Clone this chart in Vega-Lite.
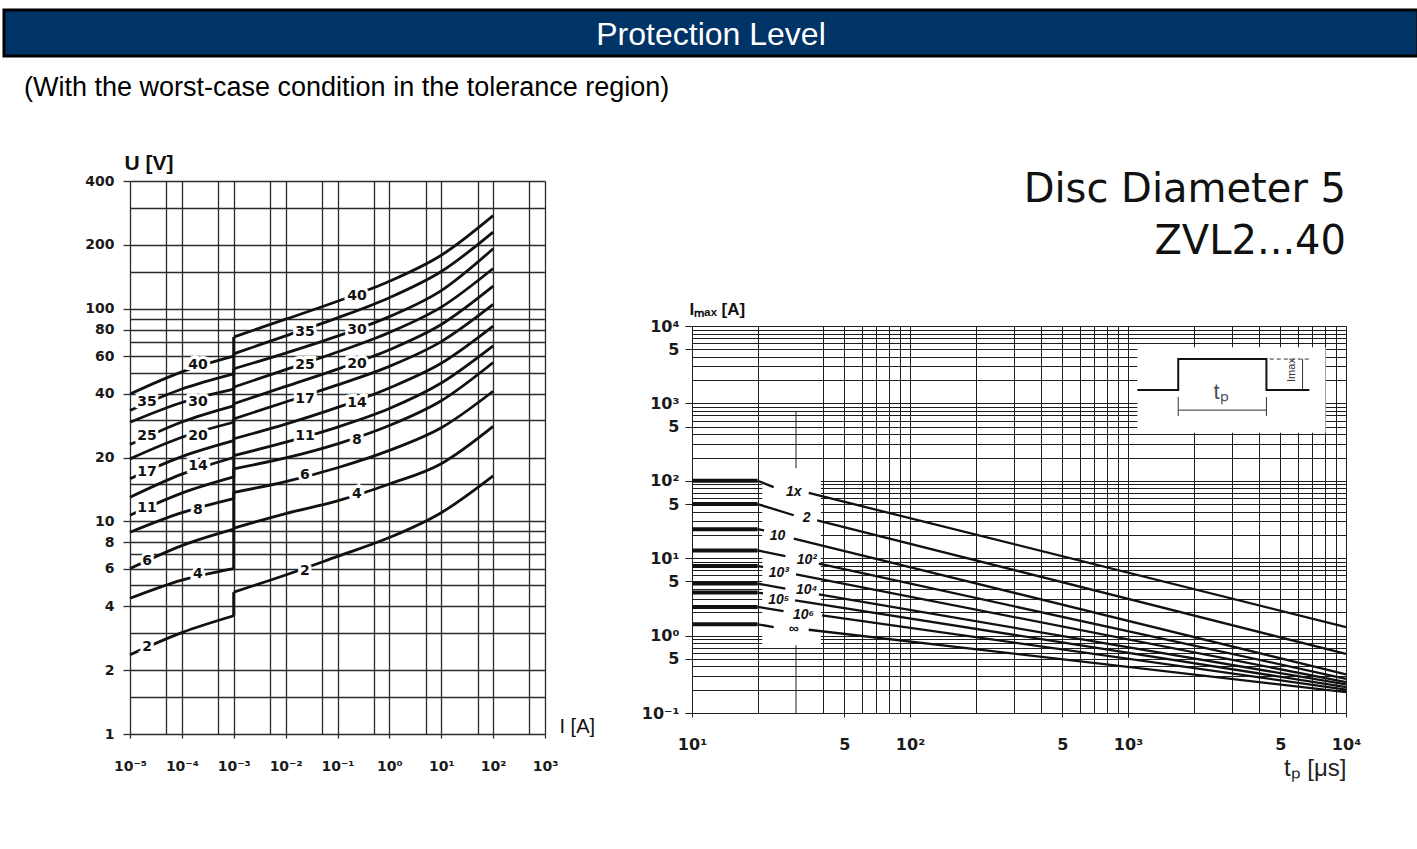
{
  "$schema": "https://vega.github.io/schema/vega-lite/v6.json",
  "background": "white",
  "padding": {"left": 2, "top": 8, "right": 1, "bottom": 4},
  "config": {"font": "Liberation Sans", "view": {"stroke": null}},
  "datasets": {
    "header": [{"label": "Protection Level"}],
    "disc": [{"line": "Disc Diameter 5"}, {"line": "ZVL2...40"}],
    "vi": [
      {"curve":"40","seg":"low","I":0.00001,"U":39.8},{"curve":"40","seg":"low","I":0.0001,"U":50.6},{"curve":"40","seg":"low","I":0.001,"U":60},
      {"curve":"40","seg":"high","I":0.001,"U":73.8},{"curve":"40","seg":"high","I":0.01,"U":89.5},{"curve":"40","seg":"high","I":0.1,"U":108.7},{"curve":"40","seg":"high","I":1,"U":135},{"curve":"40","seg":"high","I":10,"U":179},{"curve":"40","seg":"high","I":100,"U":275},
      {"curve":"35","seg":"low","I":0.00001,"U":33.3},{"curve":"35","seg":"low","I":0.0001,"U":42.0},{"curve":"35","seg":"low","I":0.001,"U":49.5},
      {"curve":"35","seg":"high","I":0.001,"U":61.5},{"curve":"35","seg":"high","I":0.01,"U":74.7},{"curve":"35","seg":"high","I":0.1,"U":90.8},{"curve":"35","seg":"high","I":1,"U":113},{"curve":"35","seg":"high","I":10,"U":150},{"curve":"35","seg":"high","I":100,"U":230},
      {"curve":"30","seg":"low","I":0.00001,"U":29.3},{"curve":"30","seg":"low","I":0.0001,"U":36.3},{"curve":"30","seg":"low","I":0.001,"U":42},
      {"curve":"30","seg":"high","I":0.001,"U":52.3},{"curve":"30","seg":"high","I":0.01,"U":62},{"curve":"30","seg":"high","I":0.1,"U":74.5},{"curve":"30","seg":"high","I":1,"U":92},{"curve":"30","seg":"high","I":10,"U":122},{"curve":"30","seg":"high","I":100,"U":192},
      {"curve":"25","seg":"low","I":0.00001,"U":23},{"curve":"25","seg":"low","I":0.0001,"U":29.4},{"curve":"25","seg":"low","I":0.001,"U":35},
      {"curve":"25","seg":"high","I":0.001,"U":42.9},{"curve":"25","seg":"high","I":0.01,"U":51.8},{"curve":"25","seg":"high","I":0.1,"U":62.7},{"curve":"25","seg":"high","I":1,"U":77.5},{"curve":"25","seg":"high","I":10,"U":102},{"curve":"25","seg":"high","I":100,"U":155},
      {"curve":"20","seg":"low","I":0.00001,"U":19.7},{"curve":"20","seg":"low","I":0.0001,"U":24.9},{"curve":"20","seg":"low","I":0.001,"U":29.3},
      {"curve":"20","seg":"high","I":0.001,"U":35.8},{"curve":"20","seg":"high","I":0.01,"U":43.2},{"curve":"20","seg":"high","I":0.1,"U":52.1},{"curve":"20","seg":"high","I":1,"U":64.3},{"curve":"20","seg":"high","I":10,"U":84.5},{"curve":"20","seg":"high","I":100,"U":128},
      {"curve":"17","seg":"low","I":0.00001,"U":15.9},{"curve":"17","seg":"low","I":0.0001,"U":20.2},{"curve":"17","seg":"low","I":0.001,"U":24},
      {"curve":"17","seg":"high","I":0.001,"U":30.4},{"curve":"17","seg":"high","I":0.01,"U":36.5},{"curve":"17","seg":"high","I":0.1,"U":43.9},{"curve":"17","seg":"high","I":1,"U":53.7},{"curve":"17","seg":"high","I":10,"U":70.2},{"curve":"17","seg":"high","I":100,"U":105},
      {"curve":"14","seg":"low","I":0.00001,"U":13},{"curve":"14","seg":"low","I":0.0001,"U":16.7},{"curve":"14","seg":"low","I":0.001,"U":20},
      {"curve":"14","seg":"high","I":0.001,"U":24.5},{"curve":"14","seg":"high","I":0.01,"U":28.7},{"curve":"14","seg":"high","I":0.1,"U":34.4},{"curve":"14","seg":"high","I":1,"U":42.5},{"curve":"14","seg":"high","I":10,"U":55.5},{"curve":"14","seg":"high","I":100,"U":83},
      {"curve":"11","seg":"low","I":0.00001,"U":10.7},{"curve":"11","seg":"low","I":0.0001,"U":13.6},{"curve":"11","seg":"low","I":0.001,"U":16.2},
      {"curve":"11","seg":"high","I":0.001,"U":20.4},{"curve":"11","seg":"high","I":0.01,"U":23.6},{"curve":"11","seg":"high","I":0.1,"U":27.8},{"curve":"11","seg":"high","I":1,"U":34},{"curve":"11","seg":"high","I":10,"U":44.8},{"curve":"11","seg":"high","I":100,"U":67},
      {"curve":"8","seg":"low","I":0.00001,"U":8.9},{"curve":"8","seg":"low","I":0.0001,"U":11.0},{"curve":"8","seg":"low","I":0.001,"U":12.8},
      {"curve":"8","seg":"high","I":0.001,"U":17.7},{"curve":"8","seg":"high","I":0.01,"U":19.9},{"curve":"8","seg":"high","I":0.1,"U":23.2},{"curve":"8","seg":"high","I":1,"U":28.3},{"curve":"8","seg":"high","I":10,"U":37},{"curve":"8","seg":"high","I":100,"U":56},
      {"curve":"6","seg":"low","I":0.00001,"U":6.0},{"curve":"6","seg":"low","I":0.0001,"U":7.7},{"curve":"6","seg":"low","I":0.001,"U":9.2},
      {"curve":"6","seg":"high","I":0.001,"U":13.7},{"curve":"6","seg":"high","I":0.01,"U":15.4},{"curve":"6","seg":"high","I":0.1,"U":17.9},{"curve":"6","seg":"high","I":1,"U":21.6},{"curve":"6","seg":"high","I":10,"U":27.6},{"curve":"6","seg":"high","I":100,"U":41},
      {"curve":"4","seg":"low","I":0.00001,"U":4.35},{"curve":"4","seg":"low","I":0.0001,"U":5.3},{"curve":"4","seg":"low","I":0.001,"U":6.0},
      {"curve":"4","seg":"high","I":0.001,"U":9.3},{"curve":"4","seg":"high","I":0.01,"U":10.9},{"curve":"4","seg":"high","I":0.1,"U":12.5},{"curve":"4","seg":"high","I":1,"U":15.0},{"curve":"4","seg":"high","I":10,"U":18.7},{"curve":"4","seg":"high","I":100,"U":28},
      {"curve":"2","seg":"low","I":0.00001,"U":2.36},{"curve":"2","seg":"low","I":0.0001,"U":3.0},{"curve":"2","seg":"low","I":0.001,"U":3.6},
      {"curve":"2","seg":"high","I":0.001,"U":4.65},{"curve":"2","seg":"high","I":0.01,"U":5.6},{"curve":"2","seg":"high","I":0.1,"U":6.85},{"curve":"2","seg":"high","I":1,"U":8.4},{"curve":"2","seg":"high","I":10,"U":11},{"curve":"2","seg":"high","I":100,"U":16.4}
    ],
    "jumps": [
      {"curve":"40","I":0.001,"Ulo":60,"Uhi":73.8},{"curve":"35","I":0.001,"Ulo":49.5,"Uhi":61.5},{"curve":"30","I":0.001,"Ulo":42,"Uhi":52.3},
      {"curve":"25","I":0.001,"Ulo":35,"Uhi":42.9},{"curve":"20","I":0.001,"Ulo":29.3,"Uhi":35.8},{"curve":"17","I":0.001,"Ulo":24,"Uhi":30.4},
      {"curve":"14","I":0.001,"Ulo":20,"Uhi":24.5},{"curve":"11","I":0.001,"Ulo":16.2,"Uhi":20.4},{"curve":"8","I":0.001,"Ulo":12.8,"Uhi":17.7},
      {"curve":"6","I":0.001,"Ulo":9.2,"Uhi":13.7},{"curve":"4","I":0.001,"Ulo":6.0,"Uhi":9.3},{"curve":"2","I":0.001,"Ulo":3.6,"Uhi":4.65}
    ],
    "vilabels": [
      {"text":"35","I":0.0000213,"U":36.6},{"text":"25","I":0.0000213,"U":25.3},{"text":"17","I":0.0000213,"U":17.1},{"text":"11","I":0.0000213,"U":11.6},{"text":"6","I":0.0000213,"U":6.53},{"text":"2","I":0.0000213,"U":2.57},
      {"text":"40","I":0.000204,"U":54.6},{"text":"30","I":0.000204,"U":36.6},{"text":"20","I":0.000204,"U":25.3},{"text":"14","I":0.000204,"U":18.3},{"text":"8","I":0.000204,"U":11.3},{"text":"4","I":0.000204,"U":5.67},
      {"text":"35","I":0.0236,"U":78.1},{"text":"25","I":0.0236,"U":54.6},{"text":"17","I":0.0236,"U":37.8},{"text":"11","I":0.0236,"U":25.3},{"text":"6","I":0.0236,"U":16.6},{"text":"2","I":0.0236,"U":5.85},
      {"text":"40","I":0.237,"U":115.4},{"text":"30","I":0.237,"U":79.8},{"text":"20","I":0.237,"U":55.2},{"text":"14","I":0.237,"U":36.2},{"text":"8","I":0.237,"U":24.2},{"text":"4","I":0.237,"U":13.5}
    ],
    "boxes": [
      {"t1":21,"t2":39,"i1":0.75,"i2":145},
      {"t1":1104,"t2":8060,"i1":417,"i2":5300}
    ],
    "grid30": [
      {"t":30,"I":145,"I2":780},
      {"t":30,"I":0.1,"I2":0.75}
    ],
    "pulse": [
      {"curve":"1x","part":"flat","t":10,"I":100},{"curve":"1x","part":"flat","t":20,"I":100},{"curve":"1x","part":"stub","t":20,"I":100},{"curve":"1x","part":"stub","t":23.7,"I":83},{"curve":"1x","part":"main","t":34.3,"I":69.8},{"curve":"1x","part":"main","t":10000,"I":1.29},
      {"curve":"2","part":"flat","t":10,"I":50},{"curve":"2","part":"flat","t":20,"I":50},{"curve":"2","part":"stub","t":20,"I":50},{"curve":"2","part":"stub","t":29.3,"I":35.9},{"curve":"2","part":"main","t":37.5,"I":30.9},{"curve":"2","part":"main","t":10000,"I":0.58},
      {"curve":"10","part":"flat","t":10,"I":23.7},{"curve":"10","part":"flat","t":20,"I":23.7},{"curve":"10","part":"stub","t":20,"I":23.7},{"curve":"10","part":"stub","t":21.4,"I":22.9},{"curve":"10","part":"main","t":29.3,"I":17.9},{"curve":"10","part":"main","t":10000,"I":0.315},
      {"curve":"1e2","part":"flat","t":10,"I":12.6},{"curve":"1e2","part":"flat","t":20,"I":12.6},{"curve":"1e2","part":"stub","t":20,"I":12.6},{"curve":"1e2","part":"stub","t":26.8,"I":10.6},{"curve":"1e2","part":"main","t":38.2,"I":8.5},{"curve":"1e2","part":"main","t":10000,"I":0.277},
      {"curve":"1e3","part":"flat","t":10,"I":7.9},{"curve":"1e3","part":"flat","t":20,"I":7.9},{"curve":"1e3","part":"stub","t":20,"I":7.9},{"curve":"1e3","part":"stub","t":21.2,"I":7.7},{"curve":"1e3","part":"main","t":30,"I":6.2},{"curve":"1e3","part":"main","t":10000,"I":0.25},
      {"curve":"1e4","part":"flat","t":10,"I":4.7},{"curve":"1e4","part":"flat","t":20,"I":4.7},{"curve":"1e4","part":"stub","t":20,"I":4.7},{"curve":"1e4","part":"stub","t":26.8,"I":4.05},{"curve":"1e4","part":"main","t":38.2,"I":3.41},{"curve":"1e4","part":"main","t":10000,"I":0.234},
      {"curve":"1e5","part":"flat","t":10,"I":3.6},{"curve":"1e5","part":"flat","t":20,"I":3.6},{"curve":"1e5","part":"stub","t":20,"I":3.6},{"curve":"1e5","part":"stub","t":21.2,"I":3.5},{"curve":"1e5","part":"main","t":29.7,"I":2.85},{"curve":"1e5","part":"main","t":10000,"I":0.216},
      {"curve":"1e6","part":"flat","t":10,"I":2.35},{"curve":"1e6","part":"flat","t":20,"I":2.35},{"curve":"1e6","part":"stub","t":20,"I":2.35},{"curve":"1e6","part":"stub","t":26.3,"I":2.07},{"curve":"1e6","part":"main","t":39.5,"I":1.82},{"curve":"1e6","part":"main","t":10000,"I":0.201},
      {"curve":"inf","part":"flat","t":10,"I":1.4},{"curve":"inf","part":"flat","t":20,"I":1.4},{"curve":"inf","part":"stub","t":20,"I":1.4},{"curve":"inf","part":"stub","t":23.7,"I":1.29},{"curve":"inf","part":"main","t":34.3,"I":1.19},{"curve":"inf","part":"main","t":10000,"I":0.186}
    ],
    "plabels": [
      {"text":"1x","t":29.3,"I":71},{"text":"2","t":33.6,"I":32.8},{"text":"10","t":24.7,"I":19.2},
      {"text":"10²","t":33.6,"I":9.4},{"text":"10³","t":25,"I":6.4},{"text":"10⁴","t":33.6,"I":3.85},
      {"text":"10⁵","t":25,"I":2.85},{"text":"10⁶","t":32.5,"I":1.82},{"text":"∞","t":29.3,"I":1.2}
    ],
    "wave": [
      {"k":0,"t":1104,"I":1486},{"k":1,"t":1700,"I":1486},{"k":2,"t":1700,"I":3741},
      {"k":3,"t":4315,"I":3741},{"k":4,"t":4315,"I":1486},{"k":5,"t":6790,"I":1486}
    ],
    "dims": [
      {"t":1700,"t2":4315,"I":818,"I2":818},{"t":1700,"t2":1700,"I":685,"I2":1208},
      {"t":4315,"t2":4315,"I":685,"I2":1208},{"t":6320,"t2":6320,"I":1486,"I2":3741}
    ],
    "ext": [{"t":4470,"t2":6790,"I":3741,"I2":3741}],
    "insetText": [{"text":"tₚ","t":2670,"I":1413}],
    "insetRot": [{"text":"Imax","t":5660,"I":2700}]
  },
  "spacing": 16,
  "vconcat": [
    {
      "width": 1414, "height": 46,
      "view": {"fill": "#003366", "stroke": "#000000", "strokeWidth": 3},
      "data": {"name": "header"},
      "mark": {"type": "text", "fill": "#ffffff", "fontSize": 32, "font": "Liberation Sans", "baseline": "middle", "align": "center", "dy": 2},
      "encoding": {"text": {"field": "label", "type": "nominal"}}
    },
    {
      "title": {"text": "(With the worst-case condition in the tolerance region)", "anchor": "start", "dx": 20, "fontSize": 27, "fontWeight": "normal", "font": "Liberation Sans", "offset": 50, "color": "#000000"},
      "spacing": 46,
      "hconcat": [
        {"width": 34, "height": 1, "data": {"values": []}, "mark": "point"},
        {
          "width": 415, "height": 553,
          "layer": [
            {
              "data": {"name": "vi"},
              "mark": {"type": "line", "color": "#111111", "strokeWidth": 2.8, "interpolate": "monotone"},
              "encoding": {
                "x": {"field": "I", "type": "quantitative",
                  "scale": {"type": "log", "domain": [0.00001, 1000], "nice": false},
                  "axis": {
                    "values": [0.00001, 0.00005, 0.0001, 0.0005, 0.001, 0.005, 0.01, 0.05, 0.1, 0.5, 1, 5, 10, 50, 100, 500, 1000],
                    "labelExpr": "datum.value == 0.00001 ? '10⁻⁵' : datum.value == 0.0001 ? '10⁻⁴' : datum.value == 0.001 ? '10⁻³' : datum.value == 0.01 ? '10⁻²' : datum.value == 0.1 ? '10⁻¹' : datum.value == 1 ? '10⁰' : datum.value == 10 ? '10¹' : datum.value == 100 ? '10²' : datum.value == 1000 ? '10³' : ''",
                    "grid": true, "gridColor": "#2b2b2b", "gridWidth": 1.3, "gridOpacity": 1,
                    "domain": false,
                    "ticks": true, "tickSize": 4, "tickColor": "#2b2b2b", "tickWidth": 1.3,
                    "tickOpacity": {"condition": {"test": "indexof([0.00001,0.0001,0.001,0.01,0.1,1,10,100,1000], datum.value) >= 0", "value": 1}, "value": 0},
                    "labelFont": "DejaVu Sans", "labelFontWeight": "bold", "labelFontSize": 14, "labelColor": "#1a1a1a", "labelPadding": 21,
                    "labelOverlap": false, "labelFlush": false, "labelBound": false,
                    "title": "I [A]", "titleFont": "Liberation Sans", "titleFontSize": 20, "titleFontWeight": "normal", "titleColor": "#111111",
                    "titleAngle": 0, "titleAlign": "left", "titleBaseline": "bottom", "titleX": 429, "titleY": 2
                  }
                },
                "y": {"field": "U", "type": "quantitative",
                  "scale": {"type": "log", "domain": [1, 400], "nice": false},
                  "axis": {
                    "values": [1,1.5,2,3,4,5,6,7,8,9,10,15,20,30,40,50,60,70,80,90,100,150,200,300,400],
                    "labelExpr": "indexof([1,2,4,6,8,10,20,40,60,80,100,200,400], datum.value) >= 0 ? '' + datum.value : ''",
                    "grid": true, "gridColor": "#2b2b2b", "gridWidth": 1.3, "gridOpacity": 1,
                    "domain": false,
                    "ticks": true, "tickSize": 7, "tickColor": "#2b2b2b", "tickWidth": 1.3,
                    "tickOpacity": {"condition": {"test": "indexof([1,2,4,6,8,10,20,40,60,80,100,200,400], datum.value) >= 0", "value": 1}, "value": 0},
                    "labelFont": "DejaVu Sans", "labelFontWeight": "bold", "labelFontSize": 14, "labelColor": "#1a1a1a", "labelPadding": 9,
                    "labelOverlap": false, "labelFlush": false, "labelBound": false,
                    "title": "U [V]", "titleFont": "Liberation Sans", "titleFontSize": 21, "titleFontWeight": "bold", "titleColor": "#111111",
                    "titleAngle": 0, "titleAlign": "left", "titleBaseline": "alphabetic", "titleX": -6, "titleY": -12
                  }
                },
                "detail": [{"field": "curve", "type": "nominal"}, {"field": "seg", "type": "nominal"}]
              }
            },
            {
              "data": {"name": "jumps"},
              "mark": {"type": "rule", "color": "#111111", "strokeWidth": 3},
              "encoding": {
                "x": {"field": "I", "type": "quantitative"},
                "y": {"field": "Ulo", "type": "quantitative"},
                "y2": {"field": "Uhi"}
              }
            },
            {
              "data": {"name": "vilabels"},
              "mark": {"type": "text", "font": "DejaVu Sans", "fontWeight": "bold", "fontSize": 14, "fill": "white", "stroke": "white", "strokeWidth": 6},
              "encoding": {
                "x": {"field": "I", "type": "quantitative"},
                "y": {"field": "U", "type": "quantitative"},
                "text": {"field": "text", "type": "nominal"}
              }
            },
            {
              "data": {"name": "vilabels"},
              "mark": {"type": "text", "font": "DejaVu Sans", "fontWeight": "bold", "fontSize": 14, "fill": "#111111"},
              "encoding": {
                "x": {"field": "I", "type": "quantitative"},
                "y": {"field": "U", "type": "quantitative"},
                "text": {"field": "text", "type": "nominal"}
              }
            }
          ]
        },
        {
          "spacing": 38,
          "vconcat": [
            {
              "width": 654, "height": 52,
              "data": {"name": "disc"},
              "mark": {"type": "text", "align": "right", "baseline": "alphabetic", "dy": 21, "fontSize": 40, "font": "DejaVu Sans", "fill": "#111111"},
              "encoding": {
                "text": {"field": "line", "type": "nominal"},
                "x": {"datum": 1, "type": "quantitative", "scale": {"domain": [0, 1]}, "axis": null},
                "y": {"field": "line", "type": "nominal", "sort": null, "scale": {"type": "point", "padding": 0}, "axis": null}
              }
            },
            {
              "width": 654, "height": 387,
              "layer": [
                {
                  "data": {"name": "boxes"},
                  "mark": {"type": "rect", "fill": "white"},
                  "encoding": {
                    "x": {"field": "t1", "type": "quantitative",
                      "scale": {"type": "log", "domain": [10, 10000], "nice": false},
                      "axis": {
                        "values": [10,20,40,50,60,70,80,90,100,200,300,400,500,600,700,800,900,1000,2000,3000,4000,5000,6000,7000,8000,9000,10000],
                        "labelExpr": "datum.value == 10 ? '10¹' : datum.value == 100 ? '10²' : datum.value == 1000 ? '10³' : datum.value == 10000 ? '10⁴' : (datum.value == 50 || datum.value == 500 || datum.value == 5000) ? '5' : ''",
                        "grid": true, "gridColor": "#1e1e1e", "gridWidth": 1, "gridOpacity": 1,
                        "domain": false,
                        "ticks": true, "tickSize": 4, "tickColor": "#1e1e1e",
                        "tickOpacity": {"condition": {"test": "indexof([10,100,1000,10000,50,500,5000], datum.value) >= 0", "value": 1}, "value": 0},
                        "labelFont": "DejaVu Sans", "labelFontWeight": "bold", "labelFontSize": 16, "labelColor": "#1a1a1a", "labelPadding": 19,
                        "labelOverlap": false, "labelFlush": false, "labelBound": false,
                        "title": "tₚ [μs]", "titleFont": "Liberation Sans", "titleFontSize": 24, "titleFontWeight": "normal", "titleColor": "#222222",
                        "titleAngle": 0, "titleAlign": "right", "titleBaseline": "alphabetic", "titleX": 654, "titleY": 62
                      }
                    },
                    "x2": {"field": "t2"},
                    "y": {"field": "i1", "type": "quantitative",
                      "scale": {"type": "log", "domain": [0.1, 10000], "nice": false},
                      "axis": {
                        "values": [0.1,0.2,0.3,0.4,0.5,0.6,0.7,0.8,0.9,1,2,3,4,5,6,7,8,9,10,20,30,40,50,60,70,80,90,100,200,300,400,500,600,700,800,900,1000,2000,3000,4000,5000,6000,7000,8000,9000,10000],
                        "labelExpr": "datum.value == 10000 ? '10⁴' : datum.value == 1000 ? '10³' : datum.value == 100 ? '10²' : datum.value == 10 ? '10¹' : datum.value == 1 ? '10⁰' : datum.value == 0.1 ? '10⁻¹' : (datum.value == 5000 || datum.value == 500 || datum.value == 50 || datum.value == 5 || datum.value == 0.5) ? '5' : ''",
                        "grid": true, "gridColor": "#1e1e1e", "gridWidth": 1, "gridOpacity": 1,
                        "domain": false,
                        "ticks": true, "tickSize": 7, "tickColor": "#1e1e1e",
                        "tickOpacity": {"condition": {"test": "indexof([0.1,1,10,100,1000,10000,0.5,5,50,500,5000], datum.value) >= 0", "value": 1}, "value": 0},
                        "labelFont": "DejaVu Sans", "labelFontWeight": "bold", "labelFontSize": 16, "labelColor": "#1a1a1a", "labelPadding": 6,
                        "labelOverlap": false, "labelFlush": false, "labelBound": false,
                        "title": "Iₘₐₓ [A]", "titleFont": "Liberation Sans", "titleFontSize": 17, "titleFontWeight": "bold", "titleColor": "#111111",
                        "titleAngle": 0, "titleAlign": "left", "titleBaseline": "alphabetic", "titleX": -3, "titleY": -12
                      }
                    },
                    "y2": {"field": "i2"}
                  }
                },
                {
                  "data": {"name": "grid30"},
                  "mark": {"type": "rule", "color": "#1e1e1e", "strokeWidth": 1},
                  "encoding": {
                    "x": {"field": "t", "type": "quantitative"},
                    "y": {"field": "I", "type": "quantitative"},
                    "y2": {"field": "I2"}
                  }
                },
                {
                  "data": {"name": "pulse"},
                  "transform": [{"filter": "datum.part == 'flat'"}],
                  "mark": {"type": "line", "color": "#111111", "strokeWidth": 4},
                  "encoding": {
                    "x": {"field": "t", "type": "quantitative"},
                    "y": {"field": "I", "type": "quantitative"},
                    "detail": {"field": "curve", "type": "nominal"}
                  }
                },
                {
                  "data": {"name": "pulse"},
                  "transform": [{"filter": "datum.part != 'flat'"}],
                  "mark": {"type": "line", "color": "#111111", "strokeWidth": 2.3},
                  "encoding": {
                    "x": {"field": "t", "type": "quantitative"},
                    "y": {"field": "I", "type": "quantitative"},
                    "detail": [{"field": "curve", "type": "nominal"}, {"field": "part", "type": "nominal"}]
                  }
                },
                {
                  "data": {"name": "wave"},
                  "mark": {"type": "line", "color": "#111111", "strokeWidth": 2},
                  "encoding": {
                    "x": {"field": "t", "type": "quantitative"},
                    "y": {"field": "I", "type": "quantitative"},
                    "order": {"field": "k", "type": "quantitative"}
                  }
                },
                {
                  "data": {"name": "dims"},
                  "mark": {"type": "rule", "color": "#333333", "strokeWidth": 1},
                  "encoding": {
                    "x": {"field": "t", "type": "quantitative"},
                    "x2": {"field": "t2"},
                    "y": {"field": "I", "type": "quantitative"},
                    "y2": {"field": "I2"}
                  }
                },
                {
                  "data": {"name": "ext"},
                  "mark": {"type": "rule", "color": "#333333", "strokeWidth": 1, "strokeDash": [4, 3]},
                  "encoding": {
                    "x": {"field": "t", "type": "quantitative"},
                    "x2": {"field": "t2"},
                    "y": {"field": "I", "type": "quantitative"},
                    "y2": {"field": "I2"}
                  }
                },
                {
                  "data": {"name": "insetText"},
                  "mark": {"type": "text", "font": "Liberation Sans", "fontSize": 22, "fill": "#4a5060"},
                  "encoding": {
                    "x": {"field": "t", "type": "quantitative"},
                    "y": {"field": "I", "type": "quantitative"},
                    "text": {"field": "text", "type": "nominal"}
                  }
                },
                {
                  "data": {"name": "insetRot"},
                  "mark": {"type": "text", "font": "Liberation Sans", "fontSize": 11, "fill": "#333333", "angle": 270},
                  "encoding": {
                    "x": {"field": "t", "type": "quantitative"},
                    "y": {"field": "I", "type": "quantitative"},
                    "text": {"field": "text", "type": "nominal"}
                  }
                },
                {
                  "data": {"name": "plabels"},
                  "mark": {"type": "text", "font": "Liberation Sans", "fontWeight": "bold", "fontStyle": "italic", "fontSize": 14, "fill": "white", "stroke": "white", "strokeWidth": 5},
                  "encoding": {
                    "x": {"field": "t", "type": "quantitative"},
                    "y": {"field": "I", "type": "quantitative"},
                    "text": {"field": "text", "type": "nominal"}
                  }
                },
                {
                  "data": {"name": "plabels"},
                  "mark": {"type": "text", "font": "Liberation Sans", "fontWeight": "bold", "fontStyle": "italic", "fontSize": 14, "fill": "#111111"},
                  "encoding": {
                    "x": {"field": "t", "type": "quantitative"},
                    "y": {"field": "I", "type": "quantitative"},
                    "text": {"field": "text", "type": "nominal"}
                  }
                }
              ]
            }
          ]
        }
      ]
    }
  ]
}
